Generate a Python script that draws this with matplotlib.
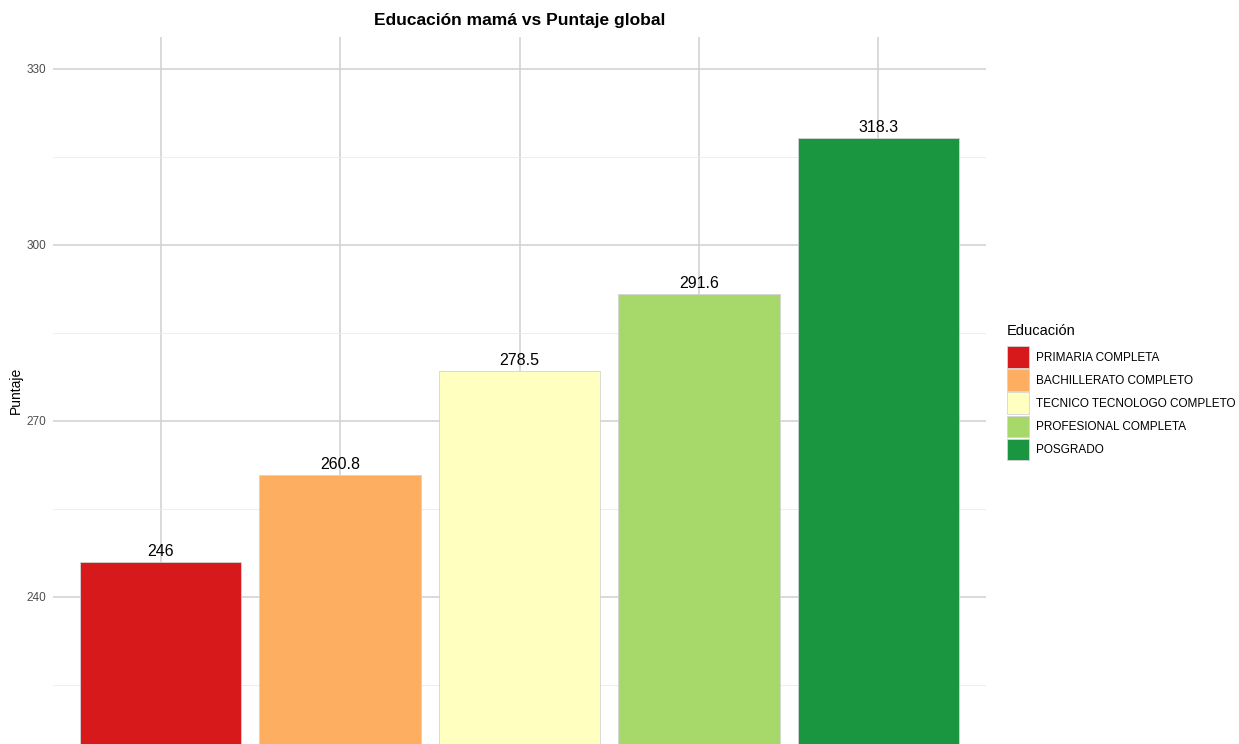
import matplotlib.pyplot as plt

plt.rcParams['font.family'] = ['Liberation Sans', 'DejaVu Sans']

niveles = ['PRIMARIA COMPLETA', 'BACHILLERATO COMPLETO', 'TECNICO TECNOLOGO COMPLETO',
           'PROFESIONAL COMPLETA', 'POSGRADO']
puntaje = [246.0, 260.8, 278.5, 291.6, 318.3]
colores = ['#D7191C', '#FDAE61', '#FFFFBF', '#A6D96A', '#1A9641']

fig = plt.figure(figsize=(12.39, 7.44), dpi=100)
ax = fig.add_axes([53 / 1239, 0, (986 - 53) / 1239, (744 - 37) / 744])

x = range(1, len(niveles) + 1)
for xi, v, c, nombre in zip(x, puntaje, colores, niveles):
    ax.bar(xi, v, width=0.9, color=c, edgecolor='#d4d4d4', linewidth=0.6,
           label=nombre, zorder=3)
    ax.text(xi, v + 0.5, f'{v:g}', ha='center', va='bottom', fontsize=11.5,
            color='black', zorder=4)

ax.set_xlim(0.4, 5.6)
ax.set_ylim(214.94, 335.45)
ax.set_xticks(list(x))
ax.set_xticklabels([])
ax.set_yticks([240, 270, 300, 330])
ax.set_yticks([225, 255, 285, 315], minor=True)
ax.tick_params(axis='both', which='both', length=0, labelsize=8.5,
               labelcolor='#4d4d4d')
ax.tick_params(axis='y', pad=5)
ax.grid(which='major', color='#d0d0d0', linewidth=1.1, zorder=0)
ax.grid(which='minor', axis='y', color='#ebebeb', linewidth=0.6, zorder=0)
for s in ax.spines.values():
    s.set_visible(False)

ax.set_ylabel('Puntaje', fontsize=10)
ax.yaxis.set_label_coords(-30 / 933, 0.5)
fig.text((53 + 986) / 2 / 1239, 1 - 20 / 744, 'Educación mamá vs Puntaje global',
         ha='center', va='center', fontsize=12.5, fontweight='bold')

leg = fig.legend(loc='upper left', bbox_to_anchor=(1007 / 1239, 1 - 324 / 744),
                 title='Educación', frameon=False, fontsize=8.5,
                 title_fontsize=10.5, handlelength=1.85, handleheight=2.4,
                 handletextpad=0.6, labelspacing=0.15, borderaxespad=0,
                 borderpad=0)
leg._legend_box.align = 'left'
leg._legend_box.sep = 6

fig.savefig('out.png', dpi=100)
